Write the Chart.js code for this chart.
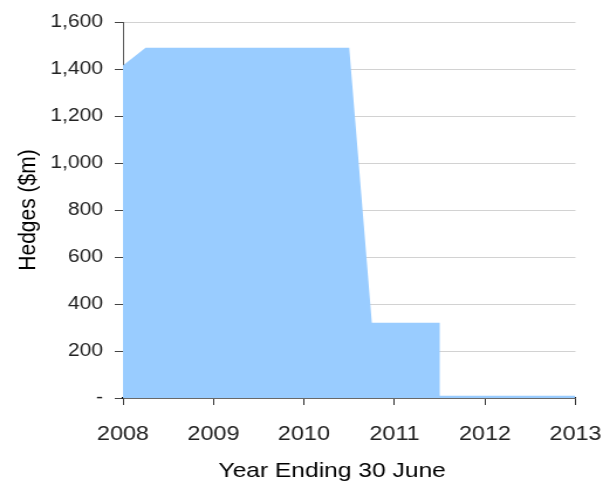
<!DOCTYPE html>
<html>
<head>
<meta charset="utf-8">
<script src="https://cdn.jsdelivr.net/npm/chart.js@4/dist/chart.umd.min.js"></script>
<style>
  html, body { margin: 0; padding: 0; background: #fff; overflow: hidden; }
</style>
</head>
<body>
<!-- the canvas is drawn narrower and widened to the page width -->
<canvas id="chart" width="515" height="484" style="display:block;width:603px;height:484px"></canvas>
<script>
// Hedge cover profile by financial year (year ending 30 June)
const years = [2008, 2008.25, 2010.5, 2010.75, 2011.5, 2011.5, 2013];
const hedges = [1415, 1490, 1490, 320, 320, 10, 10];

// Axis tick labels
const yearTicks = [2008, 2009, 2010, 2011, 2012, 2013];
const hedgeTicks = [0, 200, 400, 600, 800, 1000, 1200, 1400, 1600];

const FONT = '"Liberation Sans", Arial, Helvetica, sans-serif';

const points = years.map((x, i) => ({ x: x, y: hedges[i] }));

new Chart(document.getElementById('chart'), {
  type: 'line',
  data: {
    datasets: [{
      data: points,
      fill: 'origin',
      backgroundColor: '#99ccff',
      borderColor: '#99ccff',
      borderWidth: 0,
      pointRadius: 0,
      tension: 0
    }]
  },
  options: {
    responsive: false,
    animation: false,
    events: [],
    layout: { padding: { top: 22, right: 23.5, left: 0, bottom: 0 } },
    plugins: {
      legend: { display: false },
      tooltip: { enabled: false }
    },
    scales: {
      x: {
        type: 'linear',
        min: yearTicks[0],
        max: yearTicks[yearTicks.length - 1],
        afterBuildTicks: (scale) => { scale.ticks = yearTicks.map(v => ({ value: v })); },
        afterFit: (scale) => { scale.height = 86; },
        border: { display: true, color: '#000', width: 1.5 },
        grid: { drawOnChartArea: false, drawTicks: true, tickLength: 7, tickColor: '#333', tickWidth: 1 },
        ticks: {
          padding: 0,
          maxRotation: 0,
          autoSkip: false,
          color: '#222',
          // tall line box pushes the year labels down below the tick marks
          font: { family: FONT, size: 20, lineHeight: 2.9 },
          callback: (v) => String(v)
        },
        title: {
          display: true,
          text: 'Year Ending 30 June     ',
          color: '#000',
          font: { family: FONT, size: 21 },
          padding: { top: 0, bottom: 0 }
        }
      },
      y: {
        min: hedgeTicks[0],
        max: hedgeTicks[hedgeTicks.length - 1],
        afterBuildTicks: (scale) => { scale.ticks = hedgeTicks.map(v => ({ value: v })); },
        afterFit: (scale) => { scale.width = 105; },
        border: { display: true, color: '#555', width: 1 },
        grid: { color: '#d2d2d2', lineWidth: 1, drawTicks: true, tickLength: 7, tickColor: '#444' },
        ticks: {
          padding: 10,
          color: '#222',
          font: { family: FONT, size: 18 },
          callback: (v) => v === 0 ? '-' : v.toLocaleString('en-US')
        },
        title: {
          display: true,
          text: 'Hedges ($m)',
          color: '#000',
          font: { family: FONT, size: 21 },
          padding: { top: 12, bottom: 0 }
        }
      }
    }
  }
});
</script>
</body>
</html>
